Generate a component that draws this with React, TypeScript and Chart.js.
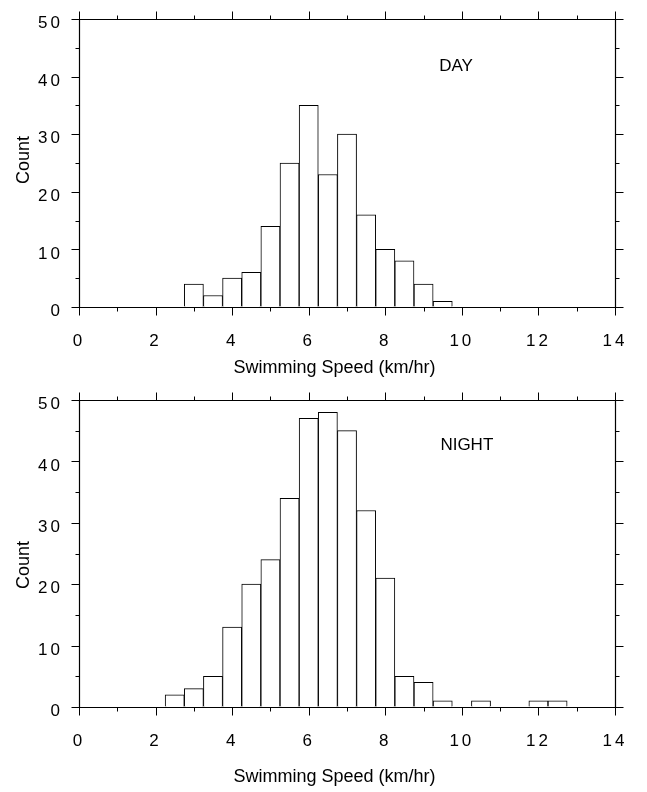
import React, { useEffect, useRef } from 'react';
import { Chart, registerables } from 'chart.js';

Chart.register(...registerables);

// ---- data ----
const dayBinCenters = [3.0, 3.5, 4.0, 4.5, 5.0, 5.5, 6.0, 6.5, 7.0, 7.5, 8.0, 8.5, 9.0, 9.5];
const dayCounts = [4, 2, 5, 6, 14, 25, 35, 23, 30, 16, 10, 8, 4, 1];

const nightBinCenters = [2.5, 3.0, 3.5, 4.0, 4.5, 5.0, 5.5, 6.0, 6.5, 7.0, 7.5, 8.0, 8.5, 9.0, 9.5, 10.0, 10.5, 11.0, 11.5, 12.0, 12.5];
const nightCounts = [2, 3, 5, 13, 20, 24, 34, 47, 48, 45, 32, 21, 5, 4, 1, 0, 1, 0, 0, 1, 1];

const xMin = 0;
const xMax = 14;
const xStep = 1;
const yMin = 0;
const yMax = 50;
const yStep = 5;

const xTitle = 'Swimming Speed (km/hr)';
const yTitle = 'Count';
const dayLabel = 'DAY';
const nightLabel = 'NIGHT';

const FONT = '"Liberation Sans", Arial, Helvetica, sans-serif';
const INK = '#000';

type PanelCfg = {
  centers: number[];
  counts: number[];
  width: number;
  height: number;
  padTop: number;
  xAxisHeight: number;
  xTitleBaseline: number;
  countCenterY: number;
  label: string;
  labelX: number;
  labelY: number;
};

function makePlugin(cfg: PanelCfg) {
  return {
    id: 'frameAndText',
    beforeDraw(chart: any) {
      try { chart.ctx.letterSpacing = '3px'; } catch (e) {}
    },
    beforeDatasetsDraw(chart: any) {
      try { chart.ctx.letterSpacing = '0px'; } catch (e) {}
    },
    afterDraw(chart: any) {
      const ctx = chart.ctx;
      const a = chart.chartArea;
      const xs = chart.scales.x;
      const ys = chart.scales.y;
      ctx.save();
      try { ctx.letterSpacing = '0px'; } catch (e) {}
      ctx.strokeStyle = INK;
      ctx.lineWidth = 1.2;
      const L = Math.round(a.left) + 0.5;
      const R = Math.round(a.right) + 0.5;
      const T = Math.round(a.top) + 0.5;
      const B = Math.round(a.bottom) + 0.5;
      ctx.beginPath();
      ctx.moveTo(L, T); ctx.lineTo(R, T); ctx.lineTo(R, B); ctx.lineTo(L, B); ctx.closePath();
      ctx.stroke();
      ctx.lineWidth = 1;
      ctx.beginPath();
      xs.ticks.forEach((t: any) => {
        const px = Math.round(xs.getPixelForValue(t.value)) + 0.5;
        const len = t.value % 2 === 0 ? 8 : 4;
        ctx.moveTo(px, B); ctx.lineTo(px, B + len);
        ctx.moveTo(px, T); ctx.lineTo(px, T - len);
      });
      ys.ticks.forEach((t: any) => {
        const py = Math.round(ys.getPixelForValue(t.value)) + 0.5;
        const len = t.value % 10 === 0 ? 8 : 4;
        ctx.moveTo(L, py); ctx.lineTo(L - len, py);
        ctx.moveTo(R, py); ctx.lineTo(R + len, py);
      });
      ctx.stroke();

      ctx.fillStyle = INK;
      ctx.font = `18px ${FONT}`;
      ctx.textAlign = 'center';
      ctx.textBaseline = 'alphabetic';
      ctx.fillText(xTitle, 334.5, cfg.xTitleBaseline);

      ctx.save();
      ctx.translate(29, cfg.countCenterY);
      ctx.rotate(-Math.PI / 2);
      ctx.fillText(yTitle, 0, 0);
      ctx.restore();

      ctx.font = `17px ${FONT}`;
      ctx.fillText(cfg.label, xs.getPixelForValue(cfg.labelX), ys.getPixelForValue(cfg.labelY));
      ctx.restore();
    },
  };
}

function Panel({ cfg }: { cfg: PanelCfg }) {
  const ref = useRef<HTMLCanvasElement | null>(null);
  useEffect(() => {
    if (!ref.current) return;
    const hiddenTickGrid = (len: number) => ({
      display: true,
      drawOnChartArea: false,
      drawTicks: true,
      tickLength: len,
      color: 'rgba(0,0,0,0)',
      tickColor: 'rgba(0,0,0,0)',
    });
    const chart = new Chart(ref.current, {
      type: 'bar',
      data: {
        datasets: [
          {
            data: cfg.centers.map((c, i) => ({ x: c, y: cfg.counts[i] })),
            backgroundColor: '#ffffff',
            borderColor: INK,
            borderWidth: 1,
            borderSkipped: 'start',
            barPercentage: 1,
            categoryPercentage: 1,
          } as any,
        ],
      },
      options: {
        responsive: false,
        animation: false,
        devicePixelRatio: 1,
        layout: { padding: { top: cfg.padTop, right: 32, left: 0, bottom: 0 } },
        plugins: { legend: { display: false }, tooltip: { enabled: false } },
        scales: {
          x: {
            type: 'linear',
            min: xMin,
            max: xMax,
            offset: false,
            grid: hiddenTickGrid(24),
            border: { display: false },
            ticks: {
              stepSize: xStep,
              autoSkip: false,
              maxRotation: 0,
              minRotation: 0,
              padding: 0,
              color: INK,
              font: { family: FONT, size: 17 },
              callback: (v: any) => (Number(v) % 2 === 0 ? String(v) : ''),
            },
            afterFit: (s: any) => { s.height = cfg.xAxisHeight; },
          },
          y: {
            type: 'linear',
            min: yMin,
            max: yMax,
            grid: hiddenTickGrid(16),
            border: { display: false },
            ticks: {
              stepSize: yStep,
              autoSkip: false,
              padding: 0,
              labelOffset: 4.5,
              color: INK,
              font: { family: FONT, size: 17 },
              callback: (v: any) => (Number(v) % 10 === 0 ? String(v) : ''),
            },
            afterFit: (s: any) => { s.width = 79; },
          },
        },
      } as any,
      plugins: [makePlugin(cfg)],
    });
    return () => chart.destroy();
  }, [cfg]);
  return <canvas ref={ref} width={cfg.width} height={cfg.height} style={{ display: 'block', width: cfg.width, height: cfg.height }} />;
}

const topCfg: PanelCfg = {
  centers: dayBinCenters,
  counts: dayCounts,
  width: 647,
  height: 380,
  padTop: 19,
  xAxisHeight: 73,
  xTitleBaseline: 373,
  countCenterY: 160,
  label: dayLabel,
  labelX: 9.85,
  labelY: 41.0,
};

const bottomCfg: PanelCfg = {
  centers: nightBinCenters,
  counts: nightCounts,
  width: 647,
  height: 412,
  padTop: 20,
  xAxisHeight: 85,
  xTitleBaseline: 401.5,
  countCenterY: 185,
  label: nightLabel,
  labelX: 10.13,
  labelY: 41.9,
};

export default function App() {
  return (
    <div style={{ position: 'absolute', left: 0, top: 0, width: 647, height: 792, background: '#fff' }}>
      <Panel cfg={topCfg} />
      <Panel cfg={bottomCfg} />
    </div>
  );
}
